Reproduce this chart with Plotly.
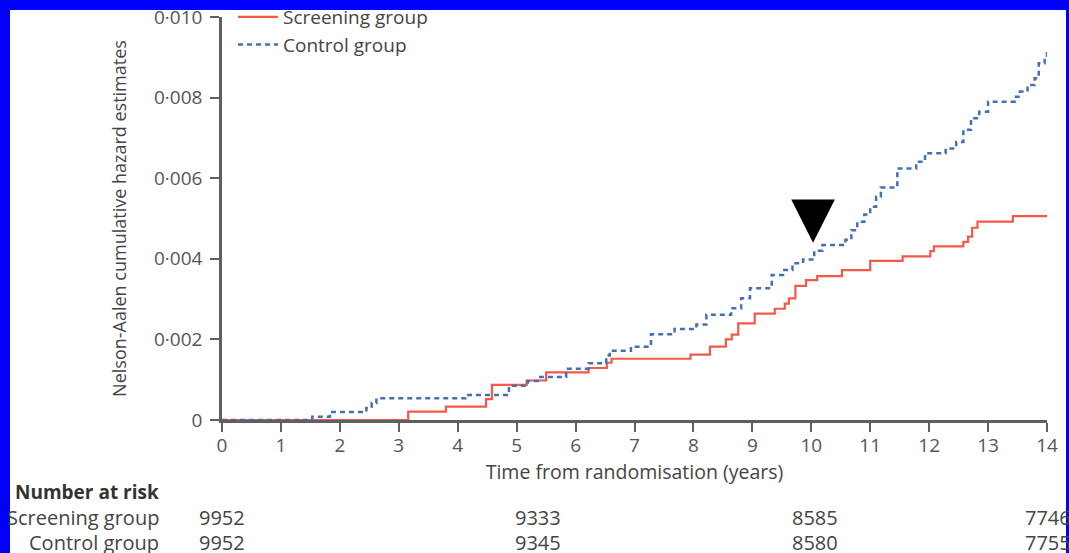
import plotly.graph_objects as go

# ---- data ----
screen_t = [0, 3.16, 3.80, 4.48, 4.58, 5.17, 5.50, 6.22, 6.53, 6.61, 7.95, 8.28, 8.55, 8.65, 8.76,
            9.04, 9.38, 9.55, 9.62, 9.73, 9.91, 10.10, 10.52, 11.00, 11.55, 12.02, 12.08, 12.58,
            12.66, 12.73, 12.82, 13.42, 14.0]
screen_v = [0, 0.00021, 0.00033, 0.00052, 0.00087, 0.00098, 0.00118, 0.00129, 0.00142, 0.00152,
            0.00162, 0.00182, 0.00200, 0.00212, 0.00240, 0.00264, 0.00276, 0.00289, 0.00302,
            0.00333, 0.00347, 0.00357, 0.00372, 0.00395, 0.00406, 0.00419, 0.00431, 0.00442,
            0.00455, 0.00477, 0.00492, 0.00506, 0.00506]

control_t = [0, 1.53, 1.83, 2.45, 2.54, 2.62, 4.13, 4.87, 5.19, 5.40, 5.84, 6.22, 6.52, 6.58,
             6.94, 7.28, 7.68, 8.05, 8.22, 8.64, 8.81, 8.96, 9.33, 9.52, 9.68, 9.86, 10.05, 10.19,
             10.58, 10.68, 10.78, 10.90, 11.00, 11.10, 11.18, 11.46, 11.78, 11.93, 12.28, 12.46,
             12.58, 12.71, 12.85, 13.00, 13.45, 13.54, 13.67, 13.79, 13.86, 13.96, 14.0]
control_v = [0, 0.00008, 0.00020, 0.00030, 0.00042, 0.00054, 0.00062, 0.00085, 0.00097, 0.00107,
             0.00127, 0.00141, 0.00160, 0.00172, 0.00182, 0.00213, 0.00226, 0.00237, 0.00261,
             0.00277, 0.00302, 0.00327, 0.00360, 0.00372, 0.00389, 0.00398, 0.00420, 0.00434,
             0.00447, 0.00471, 0.00492, 0.00510, 0.00529, 0.00554, 0.00577, 0.00624, 0.00641,
             0.00662, 0.00674, 0.00690, 0.00720, 0.00749, 0.00765, 0.00790, 0.00802, 0.00815,
             0.00831, 0.00848, 0.00885, 0.00898, 0.00914]

x_ticks = list(range(0, 15))
y_ticks = [0, 0.002, 0.004, 0.006, 0.008, 0.010]
y_tick_labels = ["0", "0·002", "0·004", "0·006", "0·008", "0·010"]

risk_x = [0, 5.37, 10.07, 14.02]
risk_screen = ["9952", "9333", "8585", "7746"]
risk_control = ["9952", "9345", "8580", "7755"]

arrow_year = 10.03
arrow_tip = 0.00440
arrow_half_w = 0.37
arrow_h = 0.00107

# ---- figure ----
W, H = 1069, 553
ML, MR, MT, MB = 222, 22, 17, 133
PW, PH = W - ML - MR, H - MT - MB
X_MAX = 14

def px_x(p):
    return (p - ML) / PW

def px_y(p):
    return (H - MB - p) / PH

FONT = "Open Sans"
GRAY = "#555555"
AX = "#5f5f5f"

fig = go.Figure()
fig.add_trace(go.Scatter(x=screen_t, y=screen_v, mode="lines", line_shape="hv",
                         line=dict(color="#F15A4A", width=2.2), name="Screening group"))
fig.add_trace(go.Scatter(x=control_t, y=control_v, mode="lines", line_shape="hv",
                         line=dict(color="#4670B0", width=2.5, dash="5px,4px"), name="Control group"))
fig.add_trace(go.Scatter(
    x=[arrow_year - arrow_half_w, arrow_year + arrow_half_w, arrow_year, arrow_year - arrow_half_w],
    y=[arrow_tip + arrow_h, arrow_tip + arrow_h, arrow_tip, arrow_tip + arrow_h],
    mode="lines", fill="toself", fillcolor="black", line=dict(color="black", width=0),
    showlegend=False, hoverinfo="skip"))

# white card inside blue frame
fig.add_shape(type="rect", xref="paper", yref="paper", layer="below",
              x0=px_x(10), x1=px_x(1066), y0=px_y(560), y1=px_y(10),
              fillcolor="white", line=dict(width=0))

RF = 20
ann = []
ann.append(dict(text="<b>Number at risk</b>", xref="paper", yref="paper", x=px_x(161), y=px_y(492),
                xanchor="right", yanchor="middle", showarrow=False, font=dict(size=19, color="#333")))
ann.append(dict(text="Screening group", xref="paper", yref="paper", x=px_x(161), y=px_y(517),
                xanchor="right", yanchor="middle", showarrow=False, font=dict(size=RF, color="#444")))
ann.append(dict(text="Control group", xref="paper", yref="paper", x=px_x(161), y=px_y(542),
                xanchor="right", yanchor="middle", showarrow=False, font=dict(size=RF, color="#444")))
for xv, a, b in zip(risk_x, risk_screen, risk_control):
    ann.append(dict(text=a, xref="paper", yref="paper", x=xv / X_MAX, y=px_y(517), xanchor="center",
                    yanchor="middle", showarrow=False, font=dict(size=RF, color="#444")))
    ann.append(dict(text=b, xref="paper", yref="paper", x=xv / X_MAX, y=px_y(542), xanchor="center",
                    yanchor="middle", showarrow=False, font=dict(size=RF, color="#444")))

fig.update_layout(
    width=W, height=H,
    margin=dict(l=ML, r=MR, t=MT, b=MB, autoexpand=False),
    paper_bgcolor="#0000FF", plot_bgcolor="rgba(0,0,0,0)",
    font=dict(family=FONT, color=GRAY, size=17),
    showlegend=True,
    legend=dict(x=px_x(233), y=px_y(-2), xanchor="left", yanchor="top",
                bgcolor="rgba(0,0,0,0)", font=dict(size=19, color="#444"),
                tracegroupgap=0, itemwidth=40),
    annotations=ann,
    xaxis=dict(range=[0, X_MAX], tickvals=x_ticks, ticks="outside", ticklen=9, tickwidth=2,
               tickcolor=AX, showline=True, linecolor=AX, linewidth=2.5, showgrid=False,
               zeroline=False, tickfont=dict(size=19, color=GRAY), ticklabelstandoff=-3,
               title=dict(text="Time from randomisation (years)", font=dict(size=19.5, color="#444"),
                          standoff=4)),
    yaxis=dict(range=[0, 0.010], tickvals=y_ticks, ticktext=y_tick_labels, ticks="outside",
               ticklen=9, tickwidth=2, tickcolor=AX, showline=True, linecolor=AX, linewidth=2.5,
               showgrid=False, zeroline=False, tickfont=dict(size=19, color=GRAY),
               ticklabelstandoff=4,
               title=dict(text="Nelson-Aalen cumulative hazard estimates",
                          font=dict(size=18, color="#444"), standoff=23)),
)

fig.write_html("out.html", config={"displayModeBar": False},
               post_script="document.body.style.margin='0';document.body.style.overflow='hidden';")
